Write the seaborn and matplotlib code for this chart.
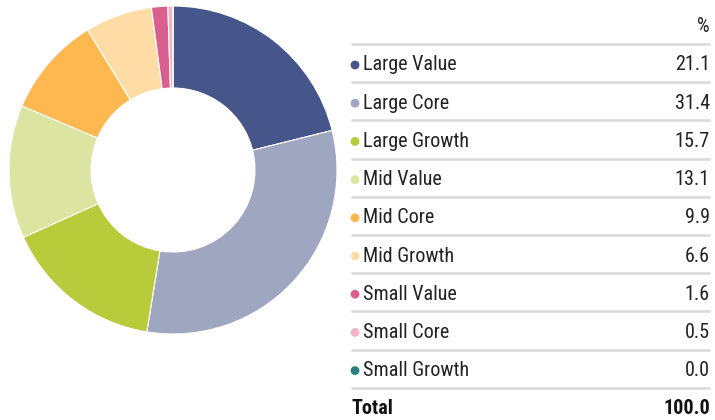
import numpy as np
import matplotlib
matplotlib.use("Agg")
import matplotlib.pyplot as plt
import seaborn as sns
from matplotlib import font_manager

categories = ["Large Value", "Large Core", "Large Growth", "Mid Value", "Mid Core",
              "Mid Growth", "Small Value", "Small Core", "Small Growth"]
values = [21.1, 31.4, 15.7, 13.1, 9.9, 6.6, 1.6, 0.5, 0.0]
colors = ["#46568a", "#9fa7c0", "#b8cb3a", "#dbe4a1", "#ffb74f",
          "#ffdba6", "#d95f8e", "#f0b3c8", "#2e7d7f"]
total_label = "Total"
total_value = "100.0"

sns.set_theme(style="white")
names = {f.name for f in font_manager.fontManager.ttflist}
fam = "Roboto"
for cand in ["Roboto Condensed", "Liberation Sans Narrow", "Open Sans Condensed", "DejaVu Sans Condensed"]:
    if cand in names:
        fam = cand
        break
plt.rcParams["font.family"] = [fam, "DejaVu Sans"]

fig = plt.figure(figsize=(7.15, 4.2), dpi=100)
W, H = 715, 420

# donut
cx, cy, r = 173, 170, 164
ax = fig.add_axes([(cx - r) / W, 1 - (cy + r) / H, 2 * r / W, 2 * r / H])
ax.pie(values, colors=colors, startangle=90, counterclock=False,
       wedgeprops=dict(width=0.5, edgecolor="white", linewidth=0.8))
ax.set_aspect("equal")
ax.set_xlim(-1, 1)
ax.set_ylim(-1, 1)
ax.axis("off")

# table
tx = fig.add_axes([340 / W, 0, 375 / W, 1])
tx.set_xlim(340, 715)
tx.set_ylim(420, 0)
tx.axis("off")

txt = "#222222"
fs = 14.5
tx.text(710, 27, "%", ha="right", va="center", fontsize=fs, color=txt)
row0, step = 65, 38.2
for i, (c, v, col) in enumerate(zip(categories, values, colors)):
    y = row0 + step * i
    tx.plot([351, 710], [y - 21, y - 21], color="#d9d9d9", lw=1.8, solid_capstyle="butt")
    tx.scatter([355], [y], s=40, color=col, edgecolors="none")
    tx.text(363, y, c, ha="left", va="center", fontsize=fs, color=txt)
    tx.text(710, y, f"{v:.1f}", ha="right", va="center", fontsize=fs, color=txt)
yt = row0 + step * len(categories)
tx.plot([351, 710], [yt - 21, yt - 21], color="#d9d9d9", lw=1.8, solid_capstyle="butt")
tx.text(351, yt, total_label, ha="left", va="center", fontsize=fs, fontweight="bold", color="#111111")
tx.text(710, yt, total_value, ha="right", va="center", fontsize=fs, fontweight="bold", color="#111111")

fig.savefig("out.png", dpi=100)
